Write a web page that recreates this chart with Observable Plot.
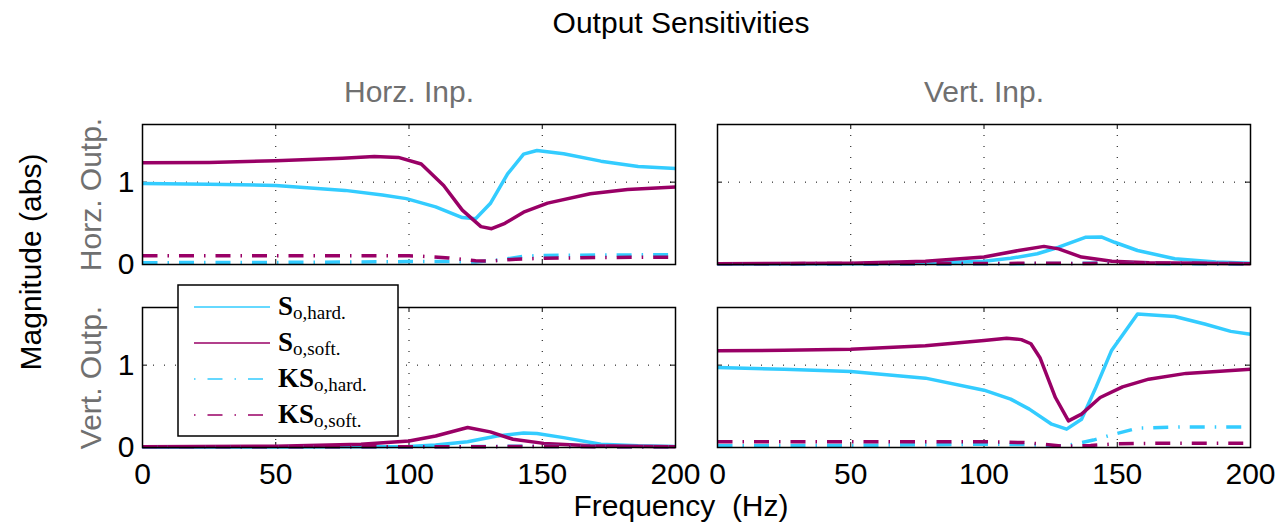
<!DOCTYPE html>
<html>
<head>
<meta charset="utf-8">
<script src="https://cdn.jsdelivr.net/npm/d3@7"></script>
<script src="https://cdn.jsdelivr.net/npm/@observablehq/plot@0.6"></script>
<style>
  html, body { margin: 0; padding: 0; background: #fff; }
  #fig { position: relative; width: 1285px; height: 526px; overflow: hidden; }
  #fig > svg { position: absolute; left: 0; top: 0; }
  #overlay { pointer-events: none; }
</style>
</head>
<body>
<div id="fig"></div>
<script>
// Facet categories
const inputs = ["Horz. Inp.", "Vert. Inp."];
const outputs = ["Horz. Outp.", "Vert. Outp."];

// Axis ticks and grid positions
const xTicks = [0, 50, 100, 150, 200];
const xGrid = [50, 100, 150];
const yTicks = [0, 1];
const yGrid = [1];

// Series colours
const hardColor = "#33ccff";
const softColor = "#990066";

// Horizontal output, horizontal input: [frequency Hz, magnitude]
const hhSHard = [[0,0.985],[25,0.975],[50,0.96],[76,0.90],[90,0.845],[99,0.80],[110,0.70],[120,0.57],[125,0.555],[130.5,0.74],[137,1.10],[143,1.34],[148,1.385],[158,1.345],[172,1.255],[186,1.19],[200,1.165]];
const hhSSoft = [[0,1.235],[25,1.24],[50,1.26],[75,1.29],[87,1.31],[96,1.30],[104.6,1.22],[113,0.96],[120,0.66],[127,0.46],[131,0.435],[136,0.50],[143,0.635],[152,0.745],[168,0.86],[182,0.91],[200,0.94]];
const hhKSHard = [[0,0.022],[50,0.025],[100,0.035],[115,0.035],[125,0.03],[135,0.06],[143,0.10],[150,0.11],[175,0.115],[200,0.12]];
const hhKSSoft = [[0,0.105],[50,0.107],[100,0.105],[105,0.10],[115,0.08],[125,0.045],[130,0.04],[140,0.065],[150,0.075],[170,0.085],[200,0.09]];

// Horizontal output, vertical input
const hvSHard = [[0,0.005],[50,0.008],[78,0.016],[100,0.04],[110,0.075],[120,0.13],[128,0.21],[138,0.33],[144,0.335],[149,0.27],[157.6,0.17],[171.6,0.07],[187,0.03],[200,0.015]];
const hvSSoft = [[0,0.008],[50,0.016],[78,0.04],[100,0.09],[113,0.17],[122.5,0.22],[128,0.19],[136.6,0.09],[148,0.04],[162,0.02],[200,0.008]];
const hvKSHard = [[0,0.003],[80,0.005],[110,0.01],[130,0.012],[150,0.02],[170,0.01],[200,0.005]];
const hvKSSoft = [[0,0.01],[100,0.012],[120,0.015],[140,0.012],[150,0.02],[200,0.01]];

// Vertical output, horizontal input
const vhSHard = [[0,0.003],[50,0.005],[80,0.008],[100,0.012],[110,0.03],[122,0.07],[133,0.14],[143,0.175],[148,0.17],[158,0.12],[172,0.04],[186,0.02],[200,0.012]];
const vhSSoft = [[0,0.008],[50,0.016],[82,0.04],[100,0.08],[110,0.14],[122,0.243],[130.5,0.19],[139,0.10],[150.6,0.05],[168,0.02],[200,0.008]];
const vhKSHard = [[0,0.003],[100,0.006],[120,0.01],[140,0.015],[160,0.012],[200,0.008]];
const vhKSSoft = [[0,0.008],[100,0.01],[125,0.01],[150,0.012],[200,0.008]];

// Vertical output, vertical input
const vvSHard = [[0,0.971],[25,0.95],[50,0.923],[78,0.842],[100,0.696],[110,0.587],[117,0.466],[125.4,0.283],[131,0.223],[136.6,0.344],[142,0.73],[147.8,1.174],[157.6,1.62],[171.6,1.59],[182.8,1.50],[192.6,1.41],[200,1.376]];
const vvSSoft = [[0,1.174],[25,1.18],[50,1.194],[78,1.235],[100,1.30],[108.5,1.328],[114,1.31],[117.6,1.26],[121,1.09],[126.8,0.607],[131.7,0.324],[136.6,0.405],[143.6,0.607],[152,0.737],[161.8,0.83],[175.8,0.90],[200,0.95]];
const vvKSHard = [[0,0.02],[50,0.025],[100,0.04],[115,0.035],[130,0.016],[141,0.09],[148,0.154],[157.6,0.235],[175.8,0.25],[200,0.25]];
const vvKSSoft = [[0,0.07],[50,0.07],[100,0.07],[115,0.06],[122,0.04],[130,0.016],[140,0.025],[150,0.045],[160,0.05],[200,0.053]];

const panels = [
  {input: inputs[0], output: outputs[0], series: {sHard: hhSHard, sSoft: hhSSoft, ksHard: hhKSHard, ksSoft: hhKSSoft}},
  {input: inputs[1], output: outputs[0], series: {sHard: hvSHard, sSoft: hvSSoft, ksHard: hvKSHard, ksSoft: hvKSSoft}},
  {input: inputs[0], output: outputs[1], series: {sHard: vhSHard, sSoft: vhSSoft, ksHard: vhKSHard, ksSoft: vhKSSoft}},
  {input: inputs[1], output: outputs[1], series: {sHard: vvSHard, sSoft: vvSSoft, ksHard: vvKSHard, ksSoft: vvKSSoft}}
];

const rows = [];
for (const p of panels) {
  for (const [key, pts] of Object.entries(p.series)) {
    for (const [f, v] of pts) rows.push({input: p.input, output: p.output, series: key, f, v});
  }
}
const pick = (key) => rows.filter((d) => d.series === key);

const dashDot = "15,10,1.5,10";
const dotted = "1,10";
const frameW = 533, frameH = 140, tickLen = 5;
const labelFont = 30;

const lineOpts = (key, color, dash) => Plot.line(pick(key), {
  x: "f", y: "v", fx: "input", fy: "output",
  stroke: color, strokeWidth: 3.5, strokeLinejoin: "round",
  strokeDasharray: dash, strokeLinecap: "butt"
});

const chart = Plot.plot({
  width: 1285,
  height: 526,
  marginLeft: 142,
  marginRight: 35,
  marginTop: 124,
  marginBottom: 79,
  style: {fontFamily: "'Liberation Sans', Arial, sans-serif", fontSize: "30px", color: "black", background: "white"},
  x: {domain: [0, 200]},
  y: {domain: [0, 1.7]},
  fx: {domain: inputs, paddingInner: 42 / 575, paddingOuter: 0, round: false, axis: null},
  fy: {domain: outputs, paddingInner: 43 / 183, paddingOuter: 0, round: false, axis: null},
  marks: [
    // dotted grid
    Plot.ruleX(xGrid, {stroke: "black", strokeWidth: 1, strokeDasharray: dotted}),
    Plot.ruleY(yGrid, {stroke: "black", strokeWidth: 1, strokeDasharray: dotted}),
    // inward tick marks on all four sides
    Plot.ruleX(xTicks, {stroke: "black", strokeWidth: 1, insetTop: frameH - tickLen}),
    Plot.ruleX(xTicks, {stroke: "black", strokeWidth: 1, insetBottom: frameH - tickLen}),
    Plot.ruleY(yTicks, {stroke: "black", strokeWidth: 1, insetRight: frameW - tickLen}),
    Plot.ruleY(yTicks, {stroke: "black", strokeWidth: 1, insetLeft: frameW - tickLen}),
    // sensitivity curves
    lineOpts("sHard", hardColor, null),
    lineOpts("sSoft", softColor, null),
    lineOpts("ksHard", hardColor, dashDot),
    lineOpts("ksSoft", softColor, dashDot),
    Plot.frame({stroke: "black", strokeWidth: 1.5}),
    // axes
    Plot.axisX({ticks: xTicks, tickSize: 0, tickPadding: 15, fontSize: labelFont, label: null, tickFormat: (d) => `${d}`}),
    Plot.axisY({ticks: yTicks, tickSize: 0, tickPadding: 8, fontSize: labelFont, label: null, tickFormat: (d) => `${d}`}),
    Plot.axisFx({anchor: "top", tickSize: 0, tickPadding: 23, fontSize: labelFont, color: "#707070", label: null}),
    // row labels beside the left column
    Plot.text(outputs, {
      fy: (d) => d, fx: () => inputs[0], text: (d) => d,
      frameAnchor: "left", textAnchor: "middle", lineAnchor: "middle",
      rotate: -90, dx: -51,
      fontSize: labelFont, fill: "#707070"
    })
  ]
});

const fig = document.getElementById("fig");
fig.appendChild(chart);

// Figure title, shared axis labels and the legend
const ns = "http://www.w3.org/2000/svg";
const overlay = d3.select(fig).append("svg")
  .attr("id", "overlay")
  .attr("xmlns", ns)
  .attr("width", 1285)
  .attr("height", 526)
  .style("font-family", "'Liberation Sans', Arial, sans-serif");

overlay.append("text")
  .attr("x", 681).attr("y", 33)
  .attr("text-anchor", "middle")
  .attr("font-size", labelFont)
  .text("Output Sensitivities");

overlay.append("text")
  .attr("transform", "translate(30,262) rotate(-90)")
  .attr("text-anchor", "middle")
  .attr("dominant-baseline", "central")
  .attr("font-size", labelFont)
  .text("Magnitude (abs)");

overlay.append("text")
  .attr("x", 681).attr("y", 516)
  .attr("text-anchor", "middle")
  .attr("font-size", labelFont)
  .style("white-space", "pre")
  .text("Frequency  (Hz)");

const legendItems = [
  {main: "S", sub: "o,hard.", color: hardColor, dash: null},
  {main: "S", sub: "o,soft.", color: softColor, dash: null},
  {main: "KS", sub: "o,hard.", color: hardColor, dash: "1.5,12,15,12"},
  {main: "KS", sub: "o,soft.", color: softColor, dash: "1.5,12,15,12"}
];

const legend = overlay.append("g");
legend.append("rect")
  .attr("x", 178).attr("y", 285)
  .attr("width", 220).attr("height", 151)
  .attr("fill", "white").attr("stroke", "black").attr("stroke-width", 1.5);

legendItems.forEach((item, i) => {
  const y = 307 + i * 36;
  legend.append("line")
    .attr("x1", 194).attr("x2", 270)
    .attr("y1", y).attr("y2", y)
    .attr("stroke", item.color)
    .attr("stroke-width", 1.6)
    .attr("stroke-dasharray", item.dash);
  const t = legend.append("text")
    .attr("x", 278).attr("y", y + 8)
    .attr("font-family", "'Liberation Serif', 'DejaVu Serif', serif")
    .attr("font-size", 27)
    .attr("font-weight", "bold")
    .text(item.main);
  t.append("tspan")
    .attr("dy", 4)
    .attr("font-size", 19)
    .attr("font-weight", "normal")
    .text(item.sub);
});
</script>
</body>
</html>
